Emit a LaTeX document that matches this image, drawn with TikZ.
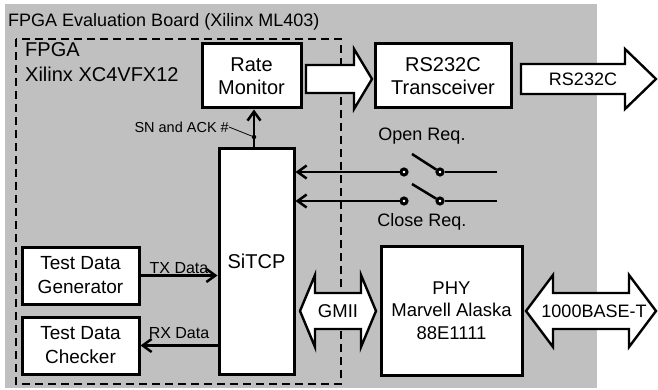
\documentclass[tikz,border=0pt]{standalone}
\usepackage{fontspec}
\setmainfont{Liberation Sans}
\usepackage{tikz}
\usetikzlibrary{arrows.meta, calc}
\definecolor{boardgray}{RGB}{192,192,192}
\tikzset{
board/.style={
fill=boardgray,
draw=none
},
fpgaline/.style={
draw=black,
dash pattern=on 8pt off 5pt,
line width=2pt
},
block/.style={
draw=black,
fill=white,
line width=3pt,
align=center,
inner sep=0pt,
font=\fontsize{20}{23}\selectfont
},
bigarrow/.style={
draw=black,
fill=white,
line width=2.4pt,
line join=miter
},
arrowtext/.style={
font=\fontsize{18}{21}\selectfont,
inner sep=0pt
},
labeltext/.style={
font=\fontsize{18}{21}\selectfont,
inner sep=0pt
},
sigtext/.style={
font=\fontsize{16}{19}\selectfont,
inner sep=1pt
},
sntext/.style={
font=\fontsize{14.5}{17}\selectfont,
inner sep=0pt
},
flow/.style={
-{Straight Barb[length=9pt,width=13pt]},
line width=2.5pt
},
contact/.style={
circle,
draw=black,
fill=white,
line width=3pt,
inner sep=0pt,
minimum size=6pt
},
dot/.style={
circle,
fill=black,
inner sep=0pt,
minimum size=4.5pt
},
lever/.style={
line width=2.5pt
}
}

\begin{document}
\begin{tikzpicture}[x=1pt, y=-1pt]
\useasboundingbox (0,0) rectangle (658,390);
\fill[board] (5,4) rectangle (597,388);
\node[labeltext, anchor=base west] (boardname) at (8,27) {FPGA Evaluation Board (Xilinx ML403)};

\draw[fpgaline] (16,39) rectangle (341,384);
\node[labeltext, font=\fontsize{20}{23}\selectfont, anchor=base west] (fpganame) at (25,57) {FPGA};
\node[labeltext, font=\fontsize{20}{23}\selectfont, anchor=base west] (fpgapart) at (25,82) {Xilinx XC4VFX12};

\node[block, minimum width=99pt, minimum height=64pt] (rate) at (251.5,76) {Rate\\Monitor};
\node[block, minimum width=136pt, minimum height=64pt] (trans) at (443,76) {RS232C\\Transceiver};
\node[block, minimum width=75pt, minimum height=225pt] (sitcp) at (256.5,261.5) {SiTCP};
\node[block, minimum width=117pt, minimum height=57pt, font=\fontsize{19}{24}\selectfont] (gen) at (80.5,275.5) {Test Data\\Generator};
\node[block, minimum width=117pt, minimum height=57pt, font=\fontsize{19}{24}\selectfont] (chk) at (80.5,345.5) {Test Data\\Checker};
\node[block, minimum width=141pt, minimum height=129pt, font=\fontsize{18.5}{22.5}\selectfont] (phy) at (451.5,310.5) {PHY\\Marvell Alaska\\88E1111};

% block arrows
\draw[bigarrow] (306,65) -- (354,65) -- (354,49) -- (372,79) -- (354,109) -- (354,93) -- (306,93) -- cycle;
\draw[bigarrow] (521,64) -- (625,64) -- (625,49) -- (656,79) -- (625,109) -- (625,94) -- (521,94) -- cycle;
\node[arrowtext] (rsout) at (583,79) {RS232C};
\draw[bigarrow] (300,311) -- (315,275) -- (315,293) -- (361,293) -- (361,275) -- (376,311) -- (361,347) -- (361,329) -- (315,329) -- (315,347) -- cycle;
\node[arrowtext, font=\fontsize{18.5}{21}\selectfont] (gmii) at (338,311) {GMII};
\draw[bigarrow] (526,311) -- (553,275) -- (553,293) -- (629,293) -- (629,275) -- (656,311) -- (629,347) -- (629,329) -- (553,329) -- (553,347) -- cycle;
\node[arrowtext] (eth) at (594,311) {1000BASE-T};

% data paths
\draw[flow] (gen.east) -- (gen.east -| sitcp.west) node[sigtext, midway, above] (txlbl) {TX Data};
\draw[flow] (chk.east -| sitcp.west) -- (chk.east) node[sigtext, midway, above=5pt] (rxlbl) {RX Data};

\node[dot] (snpt) at (254,137) {};
\draw[flow] (snpt |- sitcp.north) -- (snpt |- rate.south);
\node[sntext, anchor=east] (snlbl) at (229,127) {SN and ACK \#};
\draw[line width=0.8pt] (snlbl.east) -- (snpt);

% switches
\node[contact] (open1) at (404,172) {};
\node[contact] (open2) at (440,172) {};
\coordinate (openlever) at (412,154);
\coordinate (openend) at (497,172);
\draw[flow] (open1) -- (open1 -| sitcp.east);
\draw[lever] (open2) -- (openlever);
\draw[lever] (open2) -- (openend);
\node[labeltext] (openlbl) at (422,136) {Open Req.};

\node[contact] (close1) at (404,201) {};
\node[contact] (close2) at (440,201) {};
\coordinate (closelever) at (412,184);
\coordinate (closeend) at (497,201);
\draw[flow] (close1) -- (close1 -| sitcp.east);
\draw[lever] (close2) -- (closelever);
\draw[lever] (close2) -- (closeend);
\node[labeltext] (closelbl) at (422,222) {Close Req.};

\end{tikzpicture}
\end{document}
